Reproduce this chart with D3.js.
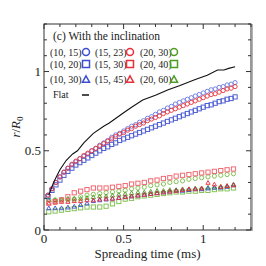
<!DOCTYPE html>
<html>
<head>
<meta charset="utf-8">
<script src="https://cdn.jsdelivr.net/npm/d3@7"></script>
<style>
  body { margin: 0; background: #fff; }
</style>
</head>
<body>
<svg id="chart" width="266" height="266"></svg>
<script>
// 時間軸 (ms)
const timesHigh = d3.range(1, 49).map((i) => +(i * 0.025).toFixed(3));
const timesLow = [0.03, 0.07, 0.11, 0.15, 0.19, 0.23, 0.27, 0.31, 0.35, 0.39, 0.43, 0.47, 0.51, 0.55, 0.59,
  0.63, 0.67, 0.71, 0.75, 0.79, 0.83, 0.87, 0.91, 0.95, 0.99, 1.03, 1.07, 1.11, 1.15, 1.19];

// r/R0 の値
const r10_15 = [0.22, 0.26, 0.30, 0.335, 0.365, 0.39, 0.41, 0.43, 0.45, 0.465, 0.48, 0.50, 0.515, 0.535, 0.55, 0.565,
  0.585, 0.60, 0.61, 0.625, 0.64, 0.655, 0.665, 0.68, 0.69, 0.705, 0.715, 0.73, 0.745, 0.755, 0.77, 0.78,
  0.795, 0.805, 0.815, 0.825, 0.835, 0.845, 0.855, 0.865, 0.875, 0.885, 0.89, 0.90, 0.905, 0.915, 0.92, 0.93];
const r15_23 = [0.22, 0.26, 0.30, 0.335, 0.365, 0.39, 0.415, 0.435, 0.45, 0.47, 0.485, 0.50, 0.515, 0.53, 0.545, 0.56,
  0.575, 0.59, 0.605, 0.615, 0.63, 0.64, 0.655, 0.665, 0.675, 0.69, 0.70, 0.71, 0.72, 0.735, 0.745, 0.755,
  0.765, 0.775, 0.785, 0.795, 0.805, 0.815, 0.825, 0.835, 0.845, 0.855, 0.86, 0.87, 0.88, 0.89, 0.895, 0.905];
const r10_20 = [0.21, 0.25, 0.285, 0.315, 0.345, 0.37, 0.39, 0.41, 0.425, 0.44, 0.455, 0.47, 0.485, 0.50, 0.515, 0.525,
  0.54, 0.55, 0.565, 0.575, 0.585, 0.595, 0.605, 0.615, 0.625, 0.635, 0.645, 0.655, 0.665, 0.675, 0.685, 0.695,
  0.705, 0.715, 0.725, 0.735, 0.745, 0.755, 0.765, 0.775, 0.785, 0.79, 0.80, 0.81, 0.815, 0.825, 0.83, 0.84];

const r15_30 = [0.17, 0.18, 0.19, 0.21, 0.235, 0.245, 0.255, 0.265, 0.265, 0.265, 0.27, 0.275, 0.28, 0.29, 0.295,
  0.30, 0.31, 0.315, 0.325, 0.33, 0.34, 0.345, 0.35, 0.355, 0.36, 0.365, 0.37, 0.375, 0.38, 0.385];
const r20_30 = [0.19, 0.19, 0.19, 0.19, 0.195, 0.21, 0.22, 0.225, 0.23, 0.235, 0.24, 0.245, 0.25, 0.26, 0.265,
  0.27, 0.28, 0.285, 0.29, 0.30, 0.305, 0.31, 0.32, 0.325, 0.33, 0.335, 0.34, 0.345, 0.35, 0.355];
const r20_40 = [0.115, 0.12, 0.125, 0.13, 0.135, 0.14, 0.145, 0.145, 0.145, 0.15, 0.165, 0.18, 0.195, 0.20, 0.21,
  0.215, 0.22, 0.225, 0.23, 0.235, 0.24, 0.24, 0.245, 0.245, 0.25, 0.25, 0.255, 0.26, 0.26, 0.265];
const r10_30 = [0.14, 0.14, 0.14, 0.145, 0.15, 0.16, 0.17, 0.185, 0.19, 0.195, 0.20, 0.205, 0.21, 0.215, 0.22,
  0.225, 0.23, 0.235, 0.24, 0.245, 0.25, 0.25, 0.255, 0.26, 0.26, 0.265, 0.27, 0.27, 0.275, 0.285];
const r15_45 = [0.17, 0.175, 0.18, 0.18, 0.185, 0.185, 0.19, 0.19, 0.195, 0.20, 0.20, 0.205, 0.21, 0.215, 0.22,
  0.225, 0.23, 0.235, 0.24, 0.245, 0.25, 0.255, 0.26, 0.26, 0.265, 0.30, 0.29, 0.275, 0.28, 0.285];
const r20_60 = [0.19, 0.19, 0.195, 0.20, 0.20, 0.20, 0.205, 0.21, 0.215, 0.215, 0.22, 0.225, 0.23, 0.235, 0.24,
  0.24, 0.245, 0.25, 0.25, 0.255, 0.255, 0.26, 0.26, 0.265, 0.265, 0.27, 0.27, 0.275, 0.28, 0.29];

// Flat (実線)
const flatT = [0.03, 0.06, 0.1, 0.14, 0.18, 0.21, 0.25, 0.31, 0.375, 0.41, 0.5, 0.55, 0.62, 0.7, 0.78, 0.85, 0.95,
  1.025, 1.09, 1.13, 1.16, 1.2];
const flatR = [0.22, 0.30, 0.38, 0.44, 0.48, 0.50, 0.55, 0.61, 0.655, 0.675, 0.74, 0.775, 0.82, 0.85, 0.885, 0.91,
  0.95, 0.977, 1.01, 1.01, 1.02, 1.03];

const xTicks = [0, 0.5, 1];
const yTicks = [0, 0.5, 1];
const legendLabels = [
  ["(10, 15)", "(15, 23)", "(20, 30)"],
  ["(10, 20)", "(15, 30)", "(20, 40)"],
  ["(10, 30)", "(15, 45)", "(20, 60)"],
];

const BLUE = "#3d4fcf", LBLUE = "#6877e0", RED = "#e8303a", LRED = "#f05a64", GREEN = "#4f9d22", LGREEN = "#79bd46";

const series = [
  { t: timesLow, r: r20_40, shape: "square", color: LGREEN },
  { t: timesLow, r: r20_30, shape: "circle", color: LGREEN },
  { t: timesLow, r: r20_60, shape: "triangle", color: GREEN },
  { t: timesLow, r: r10_30, shape: "triangle", color: BLUE },
  { t: timesLow, r: r15_45, shape: "triangle", color: RED },
  { t: timesLow, r: r15_30, shape: "square", color: LRED },
  { t: timesHigh, r: r10_20, shape: "square", color: BLUE },
  { t: timesHigh, r: r10_15, shape: "circle", color: LBLUE },
  { t: timesHigh, r: r15_23, shape: "circle", color: RED },
];

const svg = d3.select("#chart");
const mLeft = 44, mRight = 251, mTop = 24, mBottom = 230;
const x = d3.scaleLinear().domain([0, 1.3]).range([mLeft, mRight]);
const y = d3.scaleLinear().domain([0, 1.3]).range([mBottom, mTop]);
const serif = "'Liberation Serif', serif";

function drawMarker(g, shape, cx, cy, size, color, sw) {
  if (shape === "circle") {
    g.append("circle").attr("cx", cx).attr("cy", cy).attr("r", size / 2)
      .attr("fill", "none").attr("stroke", color).attr("stroke-width", sw);
  } else if (shape === "square") {
    g.append("rect").attr("x", cx - size / 2).attr("y", cy - size / 2)
      .attr("width", size).attr("height", size)
      .attr("fill", "none").attr("stroke", color).attr("stroke-width", sw);
  } else {
    const h = size * 0.9;
    g.append("path")
      .attr("d", `M${cx},${cy - h / 2}L${cx + size / 2},${cy + h / 2}L${cx - size / 2},${cy + h / 2}Z`)
      .attr("fill", "none").attr("stroke", color).attr("stroke-width", sw);
  }
}

function addText(px, py, size, str) {
  return svg.append("text").attr("x", px).attr("y", py).attr("font-size", size)
    .style("font-family", serif).attr("fill", "#222").text(str);
}

// データ点
const plot = svg.append("g");
series.forEach((s) => {
  const g = plot.append("g").attr("opacity", 0.9);
  s.r.forEach((v, i) => drawMarker(g, s.shape, x(s.t[i]), y(v), 4.2, s.color, 1));
});

// Flat 曲線
plot.append("path")
  .datum(flatT.map((t, i) => [t, flatR[i]]))
  .attr("fill", "none").attr("stroke", "#111").attr("stroke-width", 1.1)
  .attr("d", d3.line().x((d) => x(d[0])).y((d) => y(d[1])));

// 枠と目盛り
const axes = svg.append("g").attr("stroke", "#333");
axes.append("rect").attr("x", mLeft).attr("y", mTop).attr("width", mRight - mLeft).attr("height", mBottom - mTop)
  .attr("fill", "none").attr("stroke-width", 1);
axes.append("line").attr("x1", mRight + 1).attr("x2", mRight + 1).attr("y1", mTop).attr("y2", mBottom + 1)
  .attr("stroke", "#999").attr("stroke-width", 1.5);

const minor = d3.range(0, 1.31, 0.1).map((v) => +v.toFixed(1));
minor.forEach((v) => {
  const major = xTicks.includes(v);
  const len = major ? 5 : 3;
  axes.append("line").attr("x1", x(v)).attr("x2", x(v)).attr("y1", mBottom).attr("y2", mBottom - len);
  axes.append("line").attr("x1", x(v)).attr("x2", x(v)).attr("y1", mTop).attr("y2", mTop + len);
  axes.append("line").attr("y1", y(v)).attr("y2", y(v)).attr("x1", mLeft).attr("x2", mLeft + len);
  axes.append("line").attr("y1", y(v)).attr("y2", y(v)).attr("x1", mRight).attr("x2", mRight - len);
});

xTicks.forEach((d) => addText(x(d), mBottom + 13, 13, d).attr("text-anchor", "middle"));
yTicks.forEach((d) => addText(mLeft - 3, y(d) + 4.5, 13, d).attr("text-anchor", "end"));

addText((mLeft + mRight) / 2, 258, 13, "Spreading time (ms)").attr("text-anchor", "middle");

const yl = svg.append("text").attr("transform", `translate(20,${(mTop + mBottom) / 2}) rotate(-90)`)
  .attr("text-anchor", "middle").attr("font-size", 13).style("font-family", serif).attr("fill", "#222");
yl.append("tspan").attr("font-style", "italic").text("r");
yl.append("tspan").text("/");
yl.append("tspan").attr("font-style", "italic").text("R");
yl.append("tspan").attr("font-size", 9).attr("dy", 3).text("0");

// 凡例
addText(53, 40, 11.5, "(c) With the inclination");
const colX = [50, 95, 140];
const markX = [86, 130, 174];
const rowY = [52, 64, 79];
const shapes = ["circle", "square", "triangle"];
const colColors = [BLUE, RED, GREEN];
legendLabels.forEach((row, ri) => {
  row.forEach((lab, ci) => {
    addText(colX[ci], rowY[ri] + 3.5, 10, lab);
    drawMarker(svg, shapes[ri], markX[ci], rowY[ri], 7, colColors[ci], 1.5);
  });
});
addText(53, 98, 10, "Flat");
svg.append("line").attr("x1", 82).attr("x2", 89).attr("y1", 95).attr("y2", 95)
  .attr("stroke", "#111").attr("stroke-width", 1.5);
</script>
</body>
</html>
